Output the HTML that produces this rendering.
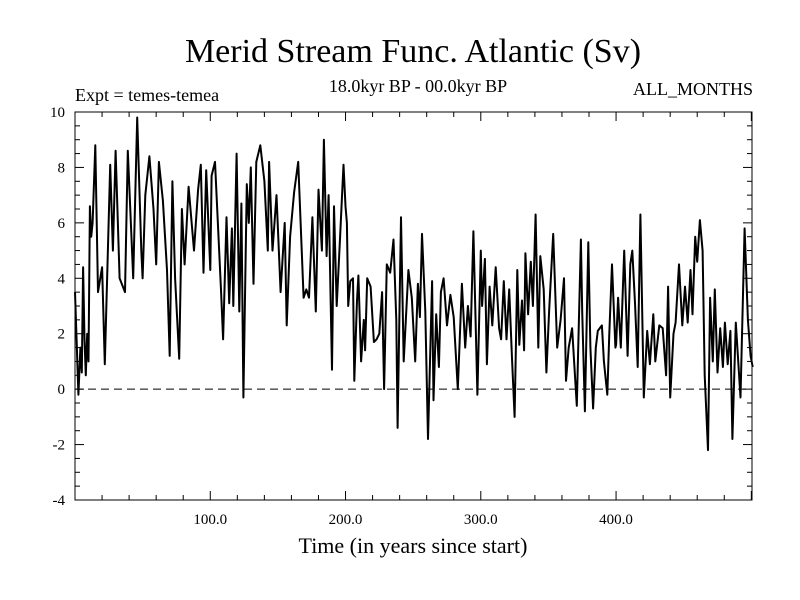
<!DOCTYPE html>
<html><head><meta charset="utf-8"><style>
body{margin:0;background:#fff}
svg{display:block;font-family:"Liberation Serif",serif}
</style></head><body>
<svg id="c" width="800" height="600" viewBox="0 0 800 600">
<text x="413" y="62" font-size="34" text-anchor="middle">Merid Stream Func. Atlantic (Sv)</text>
<text x="418" y="92" font-size="18" text-anchor="middle">18.0kyr BP - 00.0kyr BP</text>
<text x="75" y="101" font-size="18">Expt = temes-temea</text>
<text x="753" y="95" font-size="18" text-anchor="end">ALL_MONTHS</text>
<text x="413" y="553" font-size="22" text-anchor="middle">Time (in years since start)</text>
<g id="g"></g>
</svg>
<script>
const years=[0,1,2.5,4,5,6,7,8,9,10,11,12,13,15,17,20,22,26,28,30,33,37,39,43,46,49,50,52,55,58,60,62,65,68,70,72,74,77,79,81,84,88,91,93,95,97,100,101,103.5,108,109.5,112,114,116,117,119.5,121.5,123,124.5,127,128.5,130,132,134,137,140,142.5,143.5,146,149,152,155,156.5,159,162,165,169,171,173,175.5,178,180,182.5,184,186,187.5,190,191.5,193.5,196,198.5,200,201,202,203.5,205.5,206.5,208.5,209.5,211.5,213.5,214.5,216,218.5,221,223,225,227,228.5,230.5,233,235.5,237.5,238.5,241,243,246.5,249,251.5,253.5,255,256.5,259,261,264,265,267,269,270.5,272.5,275,277.5,280,283,286,288.5,290.5,292.5,294.5,297.5,300,301,303,304.5,306.5,308.5,311,313.5,315,317,319,321,323,325,327,328.5,330.5,332,333,335,337,338.5,340.5,342.5,344,346.5,348.5,350.5,353.5,356.5,359,361.5,363,365,367.5,371,374,375,377,379.5,381,383,385,386.5,389.5,391,393.5,395,397,399.5,400,401.5,403.5,406,408.5,410.5,412,414,416,418,420.5,423,425,427.5,429,432,434.5,437,438.5,440,442.5,444,446.5,449,451,453,455,456.5,458.5,460,462,464,465.5,468,469.5,471.5,473,475,477,479,480.5,482.5,484.5,486,488.5,492,495,497.5,499.5,501];
const values=[3.5,2,-0.2,1.5,0.6,4.4,1.8,0.5,2,1,6.6,5.5,6,8.8,3.5,4.4,0.9,8.1,5,8.6,4,3.5,8.6,4,9.8,5,4,7,8.4,6.5,4.5,8.2,6.8,4.3,1.2,7.5,4,1.1,6.5,4.5,7.3,5,7.2,8.1,4.2,7.9,4.3,7.7,8.2,3.5,1.8,6.2,3.1,5.8,3,8.5,2.8,6.7,-0.3,7.4,6,8,3.8,8.2,8.8,7.5,5,8.2,5,7,3.5,6,2.3,5.5,7.1,8.2,3.3,3.6,3.3,6.2,2.8,7.2,5,9,4.8,7,0.7,6.6,3,5.5,8.1,6.6,6,3,3.9,4,0.3,3.2,4.1,1,2.5,1.4,4,3.7,1.7,1.8,2,3.5,0,4.5,4.2,5.4,2.5,-1.4,6.2,1,4.3,3.3,1,3.8,2.6,5.6,2.8,-1.8,3.9,-0.4,2.7,0.8,3.5,4,2.3,3.4,2.6,0,3.8,1.5,3,1.9,5.7,-0.2,5,3,4.7,0.9,3.7,2.3,4.4,2.2,1.8,3.9,1.8,3.6,1.2,-1,4.3,1.6,3.2,1.4,4.9,2.7,4.6,3,6.3,1.5,4.8,3.6,0.6,2.8,5.6,1.5,2.5,4,0.3,1.5,2.2,-0.6,5.4,2.8,-0.8,5.3,1.5,-0.7,1.5,2.1,2.3,1,-0.2,2,4.5,1.5,1.6,3.3,1.5,5,1.2,4.5,5,3.1,0.8,6.3,-0.3,2.1,0.9,2.7,1,2.3,2.2,0.5,3.7,-0.3,2,2.4,4.5,2.3,3.7,2.4,4.3,2.7,5.5,4.6,6.1,5,0.5,-2.2,3.3,1,3.6,0.6,2.2,0.8,2.4,0.9,2.1,-1.8,2.4,-0.3,5.8,2.5,1.2,0.8];
const yTicks=[-4,-2,0,2,4,6,8,10];
const xTicks=[100,200,300,400];
const xTickLabels=["100.0","200.0","300.0","400.0"];
const L=75,R=752,T=112,B=500,X0=0,X1=500.5,Y0=-4,Y1=10;
const sx=v=>L+(v-X0)/(X1-X0)*(R-L);
const sy=v=>B-(v-Y0)/(Y1-Y0)*(B-T);
const NS="http://www.w3.org/2000/svg";
const g=document.getElementById('g');
function mk(t,a){const e=document.createElementNS(NS,t);for(const k in a)e.setAttribute(k,a[k]);g.appendChild(e);return e;}
// zero line
let z=mk('line',{x1:L,x2:R,y1:sy(0),y2:sy(0),stroke:'#000','stroke-width':1,'stroke-dasharray':'8,5'});


// series
let pts=years.map((y,i)=>sx(y).toFixed(1)+','+sy(values[i]).toFixed(1)).join(' ');
let pl=mk('polyline',{points:pts,fill:'none',stroke:'#000','stroke-width':2,'stroke-linejoin':'round'});


// frame
let fr=mk('rect',{x:L,y:T,width:R-L,height:B-T,fill:'none',stroke:'#000','stroke-width':1});


// y ticks
for(let v=Y0;v<=Y1;v+=0.5){const y=sy(v);const len=(v%2===0)?9:5;
let a=mk('line',{x1:L,x2:L+len,y1:y,y2:y,stroke:'#000'});
let b=mk('line',{x1:R,x2:R-len,y1:y,y2:y,stroke:'#000'});}
yTicks.forEach(v=>{let t=mk('text',{x:L-10,y:sy(v)+5,'font-size':15,'text-anchor':'end'});t.textContent=v;

});
// x ticks
for(let v=20;v<=500;v+=20){const x=sx(v);const len=(v%100===0)?9:5;
let a=mk('line',{x1:x,x2:x,y1:B,y2:B-len,stroke:'#000'});
let b=mk('line',{x1:x,x2:x,y1:T,y2:T+len,stroke:'#000'});}
xTicks.forEach((v,i)=>{let t=mk('text',{x:sx(v),y:B+24,'font-size':15,'text-anchor':'middle'});t.textContent=xTickLabels[i];

});
</script>
</body></html>
